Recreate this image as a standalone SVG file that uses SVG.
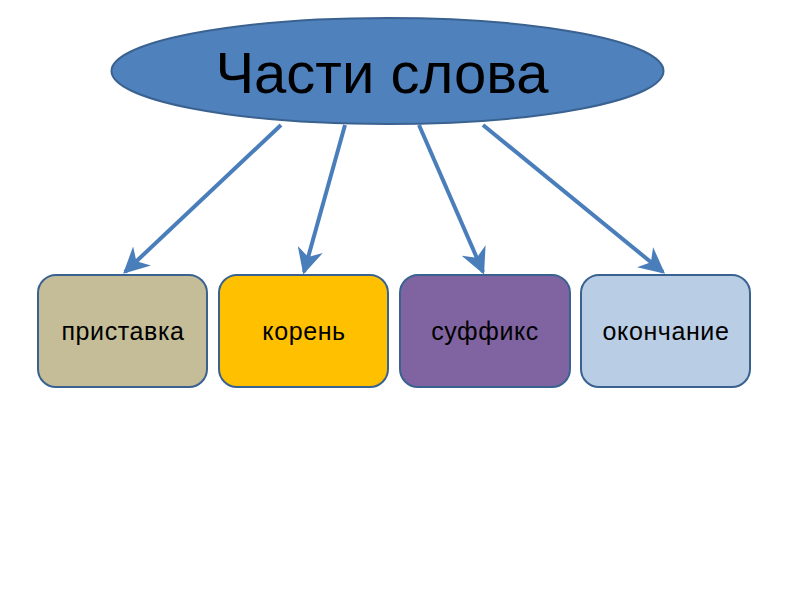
<svg xmlns="http://www.w3.org/2000/svg" width="800" height="600" viewBox="0 0 800 600">
<style>
.box{stroke:#3A6290;stroke-width:2}
.lbl{font-family:"Liberation Sans",Arial,sans-serif;font-size:25px;letter-spacing:0.6px;fill:#000;text-anchor:middle}
.conn{stroke:#4A7EBB;stroke-width:4;fill:none;marker-end:url(#arr)}
</style>
<defs>
<marker id="arr" viewBox="0 0 10 10" refX="9" refY="5" markerWidth="6.5" markerHeight="6.5" orient="auto" markerUnits="strokeWidth">
<path d="M0,0 L10,5 L0,10 L3,5 Z" fill="#4A7EBB"/>
</marker>
</defs>
<rect width="800" height="600" fill="#fff"/>
<g id="connectors">
<line class="conn" x1="281" y1="125" x2="125" y2="272"/>
<line class="conn" x1="345" y1="125" x2="304" y2="272"/>
<line class="conn" x1="419" y1="125" x2="483" y2="272"/>
<line class="conn" x1="483" y1="125" x2="663" y2="272"/>
</g>
<g id="title">
<ellipse cx="387.5" cy="71" rx="276" ry="53" fill="#4F81BD" stroke="#3A6290" stroke-width="2"/>
<text x="382" y="93" font-family="'Liberation Sans',Arial,sans-serif" font-size="58" text-anchor="middle" fill="#000">Части слова</text>
</g>
<g id="pristavka">
<rect class="box" x="38" y="275" width="169" height="112" rx="18" fill="#C4BD97"/>
<text class="lbl" x="123" y="340">приставка</text>
</g>
<g id="koren">
<rect class="box" x="219" y="275" width="169" height="112" rx="18" fill="#FFC000"/>
<text class="lbl" x="304" y="340">корень</text>
</g>
<g id="suffiks">
<rect class="box" x="400" y="275" width="170" height="112" rx="18" fill="#8064A2"/>
<text class="lbl" x="485" y="340">суффикс</text>
</g>
<g id="okonchanie">
<rect class="box" x="581" y="275" width="169" height="112" rx="18" fill="#B9CDE5"/>
<text class="lbl" x="666" y="340">окончание</text>
</g>
</svg>
